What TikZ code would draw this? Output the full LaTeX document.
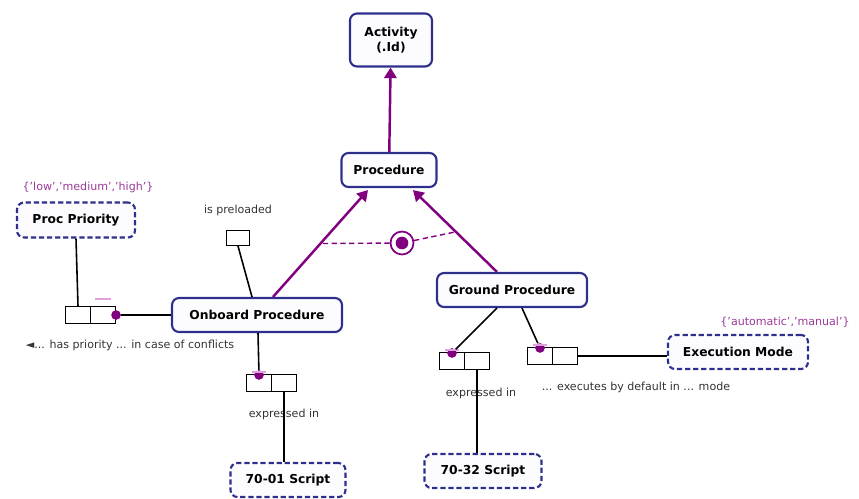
\documentclass[tikz,border=0pt]{standalone}
\usepackage{fontspec}
\setmainfont{DejaVu Sans}
\usetikzlibrary{arrows.meta,positioning,calc}
\definecolor{OrmNavy}{HTML}{2E2E8C}
\definecolor{OrmPurple}{HTML}{800080}
\definecolor{OrmFill}{HTML}{FCFCFF}
\definecolor{OrmLabel}{HTML}{333333}
\definecolor{OrmValue}{HTML}{9A3A9A}
\definecolor{OrmBar}{HTML}{E0A0E0}

\begin{document}
\begin{tikzpicture}[x=0.02cm,y=-0.02cm,
  entity/.style={draw=OrmNavy,line width=1.2pt,rounded corners=4pt,fill=OrmFill,
    font=\bfseries\fontsize{7}{8.5}\selectfont,minimum height=0.68cm,inner sep=2pt,align=center},
  valuetype/.style={entity,dash pattern=on 3pt off 1.6pt},
  rolecell/.style={draw=black,line width=0.6pt,minimum width=0.5cm,minimum height=0.34cm,inner sep=0pt,fill=white},
  roledot/.style={circle,fill=OrmPurple,inner sep=0pt,minimum size=5.5pt},
  rolelabel/.style={font=\fontsize{6.3}{7.5}\selectfont,text=OrmLabel,inner sep=1pt},
  valuelabel/.style={font=\fontsize{6.3}{7.5}\selectfont,text=OrmValue,inner sep=1pt},
  subtype/.style={OrmPurple,line width=1.4pt,-{Triangle[length=6pt,width=7pt]}},
  link/.style={black,line width=0.9pt},
  exclink/.style={OrmPurple,line width=0.8pt,dash pattern=on 3pt off 2pt}]
  \useasboundingbox (0,0) rectangle (859,498);

  \node[entity,minimum width=1.64cm,minimum height=1.06cm] (activity) at (391,40) {Activity\\(.Id)};
  \node[entity,minimum width=1.9cm] (procedure) at (389,170) {Procedure};
  \node[entity,minimum width=3.4cm] (onboard) at (257,315) {Onboard Procedure};
  \node[entity,minimum width=3.0cm] (ground) at (512,290) {Ground Procedure};
  \node[valuetype,minimum width=2.36cm,minimum height=0.7cm] (priority) at (76,220) {Proc Priority};
  \node[valuetype,minimum width=2.8cm] (execmode) at (738,352) {Execution Mode};
  \node[valuetype,minimum width=2.3cm] (script01) at (288,480) {70-01 Script};
  \node[valuetype,minimum width=2.34cm] (script32) at (483,471) {70-32 Script};

  \node[valuelabel] (priorityvals) at (88,187) {\{'low','medium','high'\}};
  \node[valuelabel] (execvals) at (785,322) {\{'automatic','manual'\}};

  \node[rolecell] (prioA) at (78,315) {};
  \node[rolecell] (prioB) at (103,315) {};
  \node[roledot] (prioDot) at (prioB.east) {};
  \node[rolelabel] (prioLbl) at (130,345) {◄... has priority ... in case of conflicts};

  \node[rolecell,minimum width=0.46cm,minimum height=0.3cm] (preload) at (238,238) {};
  \node[rolelabel] (preloadLbl) at (238,210) {is preloaded};

  \node[rolecell] (obExprA) at (259,383) {};
  \node[rolecell] (obExprB) at (284,383) {};
  \node[roledot] (obExprDot) at ($(obExprA.north)+(0,1)$) {};
  \node[rolelabel] (obExprLbl) at (284,414) {expressed in};

  \node[rolecell] (gpExprA) at (452,361) {};
  \node[rolecell] (gpExprB) at (477,361) {};
  \node[roledot] (gpExprDot) at ($(gpExprA.north)+(0,1)$) {};
  \node[rolelabel] (gpExprLbl) at (481,393) {expressed in};

  \node[rolecell] (modeA) at (540,356) {};
  \node[rolecell] (modeB) at (565,356) {};
  \node[roledot] (modeDot) at ($(modeA.north)+(0,1)$) {};
  \node[rolelabel] (modeLbl) at (636,387) {... executes by default in ... mode};

  \draw[OrmBar,line width=1pt] ($(prioB.north west)+(5,-7)$) -- ($(prioB.north east)+(-5,-7)$);
  \foreach \d in {obExprDot,gpExprDot,modeDot}
    \draw[OrmBar,line width=1.2pt] ($(\d)+(-7,-3)$) -- ($(\d)+(7,-3)$);

  \coordinate (obFrom) at ($(onboard.north)+(16,0)$);
  \coordinate (obTo) at ($(procedure.south)+(-21,2)$);
  \coordinate (gpFrom) at ($(ground.north)+(-15,0)$);
  \coordinate (gpTo) at ($(procedure.south)+(24,2)$);

  \draw[subtype] (procedure) -- (activity);
  \draw[subtype] (obFrom) -- (obTo);
  \draw[subtype] (gpFrom) -- (gpTo);

  \node[circle,draw=OrmPurple,line width=1pt,fill=white,minimum size=0.46cm,inner sep=0pt] (excl) at (402,243) {};
  \fill[OrmPurple] (excl) circle (3.6pt);
  \draw[exclink] (excl) -- ($(obFrom)!0.5!(obTo)$);
  \draw[exclink] (excl) -- ($(gpFrom)!0.49!(gpTo)$);

  \draw[link] (priority.south) -- (prioA.north);
  \draw[link] (prioDot) -- (onboard.west);
  \draw[link] (preload.south) -- ($(onboard.north)+(-5,0)$);
  \draw[link] ($(onboard.south)+(1,0)$) -- (obExprDot);
  \draw[link] (obExprB.south) -- (obExprB.south |- script01.north);
  \draw[link] ($(ground.south)+(-15,0)$) -- (gpExprDot);
  \draw[link] ($(ground.south)+(10,0)$) -- (modeDot);
  \draw[link] (gpExprB.south) -- (gpExprB.south |- script32.north);
  \draw[link] (modeB.east) -- (modeB.east -| execmode.west);
\end{tikzpicture}
\end{document}
